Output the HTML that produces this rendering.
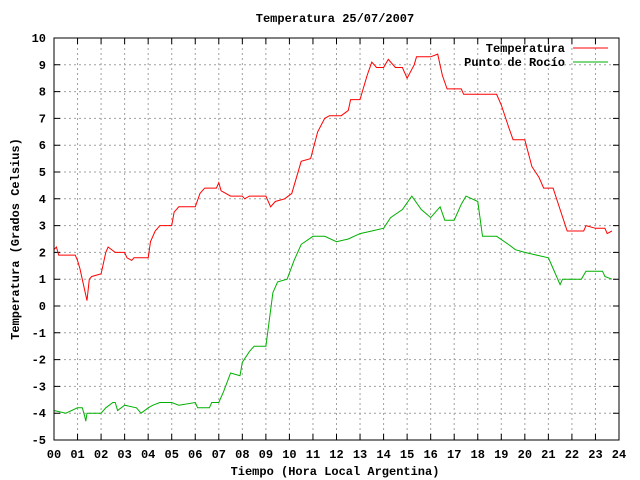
<!DOCTYPE html>
<html><head><meta charset="utf-8"><style>
body{margin:0;background:#fff}
svg{display:block;font-family:"Liberation Mono",monospace;font-weight:bold;font-size:12px}
</style></head><body>
<svg width="640" height="480" id="chart">
<text x="335" y="22" text-anchor="middle">Temperatura 25/07/2007</text>
<text x="335" y="475" text-anchor="middle">Tiempo (Hora Local Argentina)</text>
<text transform="translate(19,239) rotate(-90)" text-anchor="middle">Temperatura (Grados Celsius)</text>
<g id="grid"></g>
<g id="ticks"></g>
<g id="series"></g>
<rect x="54" y="38" width="565" height="402" fill="none" stroke="#000" stroke-width="1"/>
<g>
<text x="565" y="52" text-anchor="end">Temperatura</text>
<line x1="573" y1="48" x2="608" y2="48" stroke="#f00"/>
<text x="565" y="66" text-anchor="end">Punto de Rocío</text>
<line x1="573" y1="62" x2="608" y2="62" stroke="#00b000"/>
</g>
</svg>
<script>
const xTicks=["00","01","02","03","04","05","06","07","08","09","10","11","12","13","14","15","16","17","18","19","20","21","22","23","24"];
const yTicks=[-5,-4,-3,-2,-1,0,1,2,3,4,5,6,7,8,9,10];
const tempHours=[0,0.1,0.2,0.9,1.0,1.1,1.4,1.5,1.6,2.0,2.2,2.3,2.6,3.0,3.1,3.3,3.4,4.0,4.1,4.3,4.5,5.0,5.1,5.3,6.0,6.2,6.4,6.9,7.0,7.1,7.5,8.0,8.1,8.3,9.0,9.2,9.4,9.8,10.1,10.5,10.9,11.2,11.5,11.7,12.2,12.5,12.6,13.0,13.3,13.5,13.7,14.0,14.2,14.5,14.8,15.0,15.3,15.4,16.0,16.3,16.5,16.7,17.3,17.4,18.0,18.8,19.0,19.3,19.5,20.0,20.3,20.6,20.8,21.2,21.5,21.8,22.5,22.6,23.0,23.4,23.5,23.7];
const tempValues=[2.1,2.2,1.9,1.9,1.7,1.4,0.2,1.0,1.1,1.2,2.0,2.2,2.0,2.0,1.8,1.7,1.8,1.8,2.4,2.8,3.0,3.0,3.5,3.7,3.7,4.2,4.4,4.4,4.6,4.3,4.1,4.1,4.0,4.1,4.1,3.7,3.9,4.0,4.2,5.4,5.5,6.5,7.0,7.1,7.1,7.3,7.7,7.7,8.6,9.1,8.9,8.9,9.2,8.9,8.9,8.5,9.0,9.3,9.3,9.4,8.6,8.1,8.1,7.9,7.9,7.9,7.5,6.7,6.2,6.2,5.2,4.8,4.4,4.4,3.6,2.8,2.8,3.0,2.9,2.9,2.7,2.8];
const dewHours=[0,0.5,1.0,1.2,1.3,1.35,1.4,1.5,2.0,2.2,2.5,2.6,2.7,3.0,3.5,3.7,4.0,4.2,4.5,5.0,5.3,6.0,6.1,6.6,6.7,7.0,7.2,7.5,7.9,8.0,8.3,8.5,9.0,9.3,9.5,9.9,10.2,10.5,11.0,11.5,12.0,12.5,13.0,13.5,14.0,14.3,14.8,15.2,15.6,16.0,16.4,16.6,17.0,17.3,17.5,18.0,18.2,18.8,19.3,19.6,20.0,20.5,21.0,21.2,21.5,21.6,22.4,22.6,23.3,23.4,23.7];
const dewValues=[-3.9,-4.0,-3.8,-3.8,-4.1,-4.3,-4.0,-4.0,-4.0,-3.8,-3.6,-3.6,-3.9,-3.7,-3.8,-4.0,-3.8,-3.7,-3.6,-3.6,-3.7,-3.6,-3.8,-3.8,-3.6,-3.6,-3.2,-2.5,-2.6,-2.1,-1.7,-1.5,-1.5,0.5,0.9,1.0,1.7,2.3,2.6,2.6,2.4,2.5,2.7,2.8,2.9,3.3,3.6,4.1,3.6,3.3,3.7,3.2,3.2,3.8,4.1,3.9,2.6,2.6,2.3,2.1,2.0,1.9,1.8,1.4,0.8,1.0,1.0,1.3,1.3,1.1,1.0];
const NS="http://www.w3.org/2000/svg";
const L=54,R=619,T=38,B=440;
const xs=h=>L+h*(R-L)/24;
const ys=v=>B-(v+5)*(B-T)/15;
const grid=document.getElementById('grid'),ticks=document.getElementById('ticks'),series=document.getElementById('series');
function mk(tag,attrs,parent){const e=document.createElementNS(NS,tag);for(const k in attrs)e.setAttribute(k,attrs[k]);parent.appendChild(e);return e;}
xTicks.forEach((t,i)=>{
  const x=xs(i);
  if(i>0&&i<24){const g=mk('line',{x1:x,y1:T,x2:x,y2:B,stroke:'#a0a0a0','stroke-dasharray':'2,3'},grid);
  
  }
  const tk=mk('path',{d:`M${x},${B}v-6M${x},${T}v6`,stroke:'#000'},ticks);
  
  
  const tx=mk('text',{x:x,y:B+18,'text-anchor':'middle'},ticks);tx.textContent=t;
  
  
});
yTicks.forEach(v=>{
  const y=ys(v);
  if(v>-5&&v<10){const g=mk('line',{x1:L,y1:y,x2:R,y2:y,stroke:'#a0a0a0','stroke-dasharray':'2,3'},grid);
  
  }
  const tk=mk('path',{d:`M${L},${y}h6M${R},${y}h-6`,stroke:'#000'},ticks);
  
  
  const tx=mk('text',{x:46,y:y+4,'text-anchor':'end'},ticks);tx.textContent=v;
  
  
});
function line(hs,vs,color,name){
  const pts=hs.map((h,i)=>xs(h).toFixed(1)+','+ys(vs[i]).toFixed(1)).join(' ');
  const p=mk('polyline',{points:pts,fill:'none',stroke:color,'stroke-width':1},series);
  
  
}
line(tempHours,tempValues,'#f00','temperatura-line');
line(dewHours,dewValues,'#00b000','punto-de-rocio-line');
</script>
</body></html>
